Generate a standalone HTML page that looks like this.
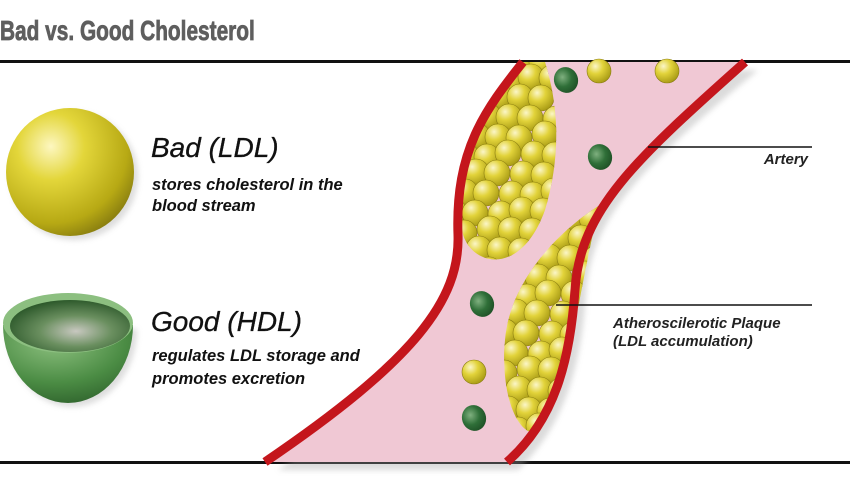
<!DOCTYPE html>
<html><head><meta charset="utf-8"><style>
html,body{margin:0;padding:0;background:#fff;width:850px;height:485px;overflow:hidden}
svg{display:block}
text{font-family:"Liberation Sans",sans-serif}
</style></head><body>
<svg id="s" width="850" height="485" viewBox="0 0 850 485" xmlns="http://www.w3.org/2000/svg">
<defs>
<radialGradient id="yb" cx="0.35" cy="0.3" r="0.75">
<stop offset="0" stop-color="#fdf7c0"/><stop offset="0.35" stop-color="#e3d63a"/><stop offset="0.8" stop-color="#b7a914"/><stop offset="1" stop-color="#8a7f10"/></radialGradient>
<radialGradient id="ys" cx="0.35" cy="0.3" r="0.8">
<stop offset="0" stop-color="#fbf6c8"/><stop offset="0.4" stop-color="#e2d33a"/><stop offset="1" stop-color="#9f920f"/></radialGradient>
<radialGradient id="gs" cx="0.4" cy="0.35" r="0.75">
<stop offset="0" stop-color="#7fb07f"/><stop offset="0.5" stop-color="#2f6f38"/><stop offset="1" stop-color="#1b4a22"/></radialGradient>
<radialGradient id="bowlOut" cx="0.4" cy="0.2" r="0.9">
<stop offset="0" stop-color="#8fc281"/><stop offset="0.6" stop-color="#4b8c44"/><stop offset="1" stop-color="#2c5e2a"/></radialGradient>
<radialGradient id="bowlIn" cx="0.55" cy="0.6" r="0.6">
<stop offset="0" stop-color="#c8c8c0"/><stop offset="0.5" stop-color="#6a8f5f"/><stop offset="1" stop-color="#2e5a2c"/></radialGradient>
<filter id="sh"><feGaussianBlur stdDeviation="3"/></filter>
<clipPath id="c1"><path d="M520,62 C485,110 455,150 462,230 C468,265 520,280 545,210 C560,160 560,110 545,62 Z"/></clipPath>
<clipPath id="c2"><path d="M600,205 C560,230 510,280 505,340 C500,400 520,435 535,432 C570,400 575,300 600,205 Z"/></clipPath>
</defs>
<text x="0" y="40" font-size="28" font-weight="bold" fill="#5e5e5e" stroke="#5e5e5e" stroke-width="0.8" transform="scale(0.745,1)" style="font-family:'Liberation Sans Narrow','Liberation Sans',sans-serif">Bad vs. Good Cholesterol</text>
<rect x="0" y="60" width="850" height="3" fill="#111"/>
<rect x="0" y="461" width="850" height="3" fill="#111"/>
<path d="M528,66 C490,110 460,150 462,235 C463,300 420,360 272,466 L512,466 C560,420 575,360 580,290 C585,210 640,160 752,66 Z" fill="#999" opacity="0.35" filter="url(#sh)" transform="translate(6,4)"/>
<path d="M523,62 C485,110 455,150 458,235 C460,300 415,360 265,462 L507,462 C555,420 570,360 575,290 C580,210 635,160 745,62 Z" fill="#f0c8d4"/>
<g clip-path="url(#c1)" id="g1"></g>
<g clip-path="url(#c2)" id="g2"></g>
<g id="loose"></g>
<path d="M523,62 C485,110 455,150 458,235 C460,300 415,360 265,462" fill="none" stroke="#c4161c" stroke-width="9"/>
<path d="M745,62 C635,160 580,210 575,290 C570,360 555,420 507,462" fill="none" stroke="#c4161c" stroke-width="9"/>
<line x1="648" y1="147" x2="812" y2="147" stroke="#111" stroke-width="1.5"/>
<text x="808" y="164" font-size="15" font-style="italic" font-weight="bold" text-anchor="end" fill="#222">Artery</text>
<line x1="556" y1="305" x2="812" y2="305" stroke="#111" stroke-width="1.5"/>
<text x="613" y="328" font-size="15" font-style="italic" font-weight="bold" fill="#222">Atheroscilerotic Plaque</text>
<text x="613" y="346" font-size="15" font-style="italic" font-weight="bold" fill="#222">(LDL accumulation)</text>
<circle cx="74" cy="176" r="64" fill="#aaa" opacity="0.4" filter="url(#sh)"/>
<circle cx="70" cy="172" r="64" fill="url(#yb)"/>
<text x="151" y="157" font-size="28" font-style="italic" fill="#111" stroke="#111" stroke-width="0.3">Bad (LDL)</text>
<text x="152" y="190" font-size="16.5" font-style="italic" font-weight="bold" fill="#111">stores cholesterol in the</text>
<text x="152" y="211" font-size="16.5" font-style="italic" font-weight="bold" fill="#111">blood stream</text>
<path d="M3,325 A65,78 0 0 0 133,325 Z" fill="#aaa" opacity="0.4" filter="url(#sh)" transform="translate(4,4)"/>
<path d="M3,325 A65,78 0 0 0 133,325 Z" fill="url(#bowlOut)"/>
<ellipse cx="68" cy="323" rx="65" ry="30" fill="#8cbf80"/>
<ellipse cx="70" cy="326" rx="60" ry="26" fill="url(#bowlIn)"/>
<text x="151" y="331" font-size="28" font-style="italic" fill="#111" stroke="#111" stroke-width="0.3">Good (HDL)</text>
<text x="152" y="361" font-size="16.5" font-style="italic" font-weight="bold" fill="#111">regulates LDL storage and</text>
<text x="152" y="384" font-size="16.5" font-style="italic" font-weight="bold" fill="#111">promotes excretion</text>
</svg>
<script>
var NS="http://www.w3.org/2000/svg";
function ball(g,x,y,r,f){var c=document.createElementNS(NS,"circle");c.setAttribute("cx",x);c.setAttribute("cy",y);c.setAttribute("r",r);c.setAttribute("fill",f);c.setAttribute("stroke","#8a7d10");c.setAttribute("stroke-width","0.6");g.appendChild(c);}
function fill(id,x0,x1,y0,y1){var g=document.getElementById(id);var row=0;for(var y=y0;y<y1;y+=19){var off=(row%2)*11;for(var x=x0+off;x<x1;x+=22){ball(g,x+((x*7+y*3)%5)-2,y+((x*3+y)%5)-2,13,"url(#ys)");}row++;}}
fill("g1",455,565,60,290);
fill("g2",495,605,200,445);
var L=document.getElementById("loose");
[[599,71],[667,71],[474,372]].forEach(function(p){ball(L,p[0],p[1],12,"url(#ys)");});
[[566,80],[600,157],[482,304],[474,418]].forEach(function(p){var e=document.createElementNS(NS,"ellipse");e.setAttribute("cx",p[0]);e.setAttribute("cy",p[1]);e.setAttribute("rx",12);e.setAttribute("ry",13);e.setAttribute("fill","url(#gs)");e.setAttribute("transform","rotate(-20 "+p[0]+" "+p[1]+")");L.appendChild(e);});
</script>
</body></html>
